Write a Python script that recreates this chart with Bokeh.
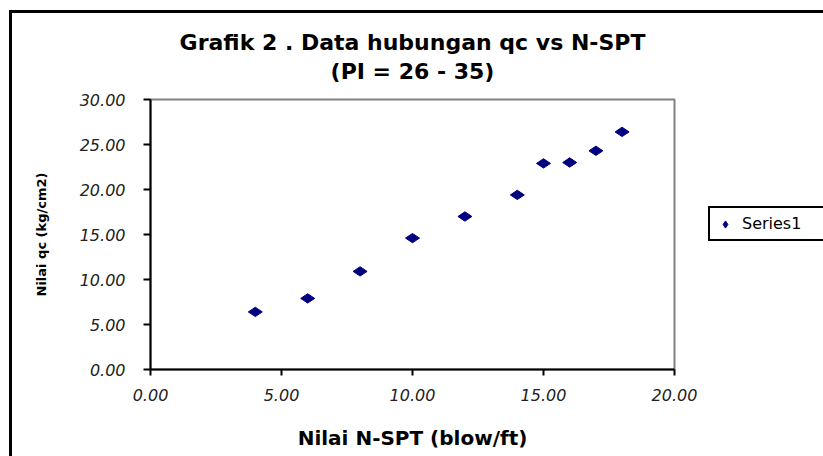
import numpy as np
from bokeh.plotting import figure
from bokeh.models import (FixedTicker, PrintfTickFormatter, Title,
                          Legend, LegendItem, ColumnDataSource)
from bokeh.embed import file_html
from bokeh.resources import INLINE

# ---- data ----
n_spt = [4, 6, 8, 10, 12, 14, 15, 16, 17, 18]
qc = [6.4, 7.9, 10.9, 14.6, 17.0, 19.4, 22.9, 23.0, 24.3, 26.4]
x_ticks = [0, 5, 10, 15, 20]
y_ticks = [0, 5, 10, 15, 20, 25, 30]
title_1 = "Grafik 2 . Data hubungan qc vs N-SPT"
title_2 = "(PI = 26 - 35)"
x_label = "Nilai N-SPT (blow/ft)"
y_label = "Nilai qc (kg/cm2)"
series_name = "Series1"

FONT = "DejaVu Sans"

p = figure(width=811, height=443, frame_width=524, frame_height=270,
           output_backend="svg", toolbar_location=None,
           x_range=(0, 20), y_range=(0, 30),
           min_border_left=138, min_border_right=149,
           min_border_top=86, min_border_bottom=87)
p.background_fill_color = "white"
p.border_fill_color = "white"
p.outline_line_color = "#808080"
p.outline_line_width = 2
p.xgrid.visible = False
p.ygrid.visible = False
p.styles = {"margin-left": "9px", "margin-top": "10px",
            "border-left": "3px solid black", "border-top": "3px solid black"}

src = ColumnDataSource(dict(x=n_spt, y=qc))
r = p.scatter("x", "y", source=src, marker="diamond", size=14, angle=np.pi / 2,
              fill_color="#000080", line_color="#000080")

for ax in (p.xaxis[0], p.yaxis[0]):
    ax.axis_line_color = "black"
    ax.axis_line_width = 2
    ax.major_tick_line_color = "black"
    ax.major_tick_line_width = 2
    ax.major_tick_in = 0
    ax.minor_tick_line_color = None
    ax.major_label_text_font = FONT
    ax.major_label_text_font_style = "italic"
    ax.major_label_text_font_size = "16px"
    ax.major_label_text_color = "#222222"
    ax.axis_label_text_font = FONT
    ax.axis_label_text_font_style = "bold"
    ax.axis_label_text_color = "black"
    ax.formatter = PrintfTickFormatter(format="%.2f")

p.xaxis[0].ticker = FixedTicker(ticks=x_ticks)
p.yaxis[0].ticker = FixedTicker(ticks=y_ticks)
p.xaxis[0].major_tick_out = 6
p.yaxis[0].major_tick_out = 7
p.xaxis[0].major_label_standoff = 13
p.yaxis[0].major_label_standoff = 18
p.xaxis[0].axis_label = x_label
p.xaxis[0].axis_label_text_font_size = "20px"
p.xaxis[0].axis_label_standoff = 22
p.yaxis[0].axis_label = y_label
p.yaxis[0].axis_label_text_font_size = "13px"
p.yaxis[0].axis_label_standoff = 28

legend = Legend(items=[LegendItem(label=series_name, renderers=[r])],
                location=(34, 128), border_line_color="black", border_line_width=2,
                border_line_alpha=1.0,
                padding=6, margin=0, glyph_width=18, glyph_height=18,
                label_standoff=8, label_width=76,
                label_text_font=FONT, label_text_font_size="16px",
                label_text_color="black", background_fill_alpha=1)
p.add_layout(legend, "right")

p.add_layout(Title(text=title_2, align="center", text_font=FONT, text_font_style="bold",
                   text_font_size="22px", text_color="black",
                   standoff=32, offset=8), "above")
p.add_layout(Title(text=title_1, align="center", text_font=FONT, text_font_style="bold",
                   text_font_size="22px", text_color="black",
                   standoff=-29, offset=8), "above")

open("out.html", "w").write(file_html(p, INLINE))
